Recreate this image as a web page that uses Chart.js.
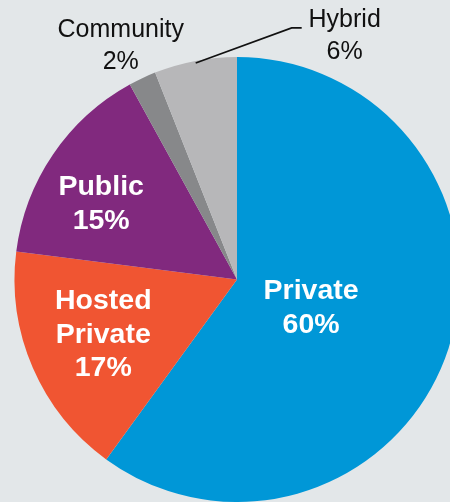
<!DOCTYPE html>
<html>
<head>
<meta charset="utf-8">
<script src="https://cdn.jsdelivr.net/npm/chart.js@4/dist/chart.umd.min.js"></script>
<style>
  html, body { margin: 0; padding: 0; background: #e3e7e9; overflow: hidden; }
  #wrap { position: absolute; left: 0; top: 0; width: 474px; height: 502px; }
</style>
</head>
<body>
<div id="wrap"><canvas id="myChart"></canvas></div>
<script>
// cloud deployment shares
const categories = ['Private', 'Hosted Private', 'Public', 'Community', 'Hybrid'];
const shares = [60, 17, 15, 2, 6];
const labelLines = [
  ['Private', '60%'],
  ['Hosted', 'Private', '17%'],
  ['Public', '15%'],
  ['Community', '2%'],
  ['Hybrid', '6%'],
];
const sliceColors = ['#0097d7', '#f05532', '#81297e', '#87888a', '#b7b7b9'];

// where each label sits, relative to its slice
const labelStyle = [
  { inside: true, r: 0.355, dx: -1, dy: 4 },
  { inside: true, r: 0.65, dx: -1, dy: -2 },
  { inside: true, r: 0.70, dx: -7, dy: 12 },
  { inside: false, r: 1.185, dx: -4, dy: 5 },
  { inside: false, leader: true },
];

const labelPlugin = {
  id: 'sliceLabels',
  afterDatasetsDraw(chart) {
    const ctx = chart.ctx;
    const arcs = chart.getDatasetMeta(0).data;
    ctx.save();
    ctx.textAlign = 'center';
    ctx.textBaseline = 'middle';
    arcs.forEach(function(arc, i) {
      const p = arc.getProps(['x', 'y', 'startAngle', 'endAngle', 'outerRadius'], true);
      const mid = (p.startAngle + p.endAngle) / 2;
      const st = labelStyle[i];
      const lines = labelLines[i];
      let cx, cy, lh;
      if (st.inside) {
        ctx.fillStyle = '#ffffff';
        ctx.font = 'bold 28.5px "Liberation Sans", Arial, sans-serif';
        lh = 33.5;
      } else {
        ctx.fillStyle = '#111111';
        ctx.font = '25px "Liberation Sans", Arial, sans-serif';
        lh = 32;
      }
      if (st.leader) {
        const ex = p.x + Math.cos(mid) * (p.outerRadius - 2);
        const ey = p.y + Math.sin(mid) * (p.outerRadius - 2);
        ctx.strokeStyle = '#111111';
        ctx.lineWidth = 1.6;
        ctx.beginPath();
        ctx.moveTo(ex, ey);
        ctx.lineTo(ex + 96, ey - 35);
        ctx.lineTo(ex + 106, ey - 35);
        ctx.stroke();
        cx = ex + 149;
        cy = ey - 27;
      } else {
        cx = p.x + Math.cos(mid) * p.outerRadius * st.r + st.dx;
        cy = p.y + Math.sin(mid) * p.outerRadius * st.r + st.dy;
      }
      const top = cy - (lines.length - 1) * lh / 2;
      lines.forEach(function(t, k) {
        ctx.fillText(t, cx, top + k * lh);
      });
    });
    ctx.restore();
  }
};

const config = {
  type: 'pie',
  data: {
    labels: categories,
    datasets: [{
      data: shares,
      backgroundColor: sliceColors,
      borderWidth: 0,
      hoverOffset: 0,
    }]
  },
  options: {
    responsive: true,
    maintainAspectRatio: false,
    animation: false,
    layout: { padding: { top: 57, left: 14, right: 14, bottom: 0 } },
    plugins: {
      legend: { display: false },
      tooltip: { enabled: false },
    }
  },
  plugins: [labelPlugin]
};

const myChart = new Chart(document.getElementById('myChart'), config);
</script>
</body>
</html>
